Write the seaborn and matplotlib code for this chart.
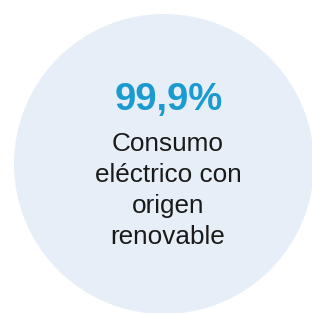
import matplotlib
matplotlib.use("Agg")
import matplotlib.pyplot as plt
from matplotlib.patches import Circle
import seaborn as sns

# KPI content
value_text = "99,9%"
label_lines = ["Consumo", "eléctrico con", "origen", "renovable"]

circle_color = "#E6EFF7"
value_color = "#1B9AD0"
label_color = "#1A1A1A"

sns.set_theme(style="white")
plt.rcParams['font.family'] = ['Liberation Sans', 'DejaVu Sans']

fig = plt.figure(figsize=(3.12, 3.13), dpi=100)
ax = fig.add_axes([0, 0, 1, 1])
ax.set_xlim(0, 312)
ax.set_ylim(313, 0)
ax.axis("off")

# background circle
ax.add_patch(Circle((164, 164), 150, facecolor=circle_color, edgecolor="none"))

# big value
ax.text(168.5, 110, value_text, color=value_color, fontsize=27.5, fontweight="bold",
        ha="center", va="baseline")

# description, one line at a time
for i, line in enumerate(label_lines):
    ax.text(168, 151 + i * 31, line, color=label_color, fontsize=18.8,
            ha="center", va="baseline")

plt.savefig("out.png", dpi=100)
